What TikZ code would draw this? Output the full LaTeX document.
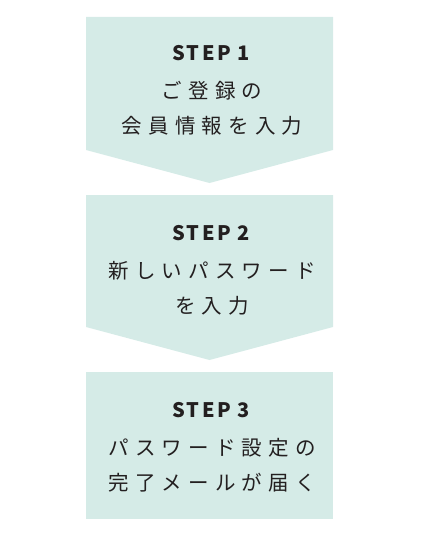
\documentclass[tikz,border=0pt]{standalone}
\usepackage{fontspec}
\newfontfamily\jpfont[LetterSpace=30]{Noto Sans CJK JP}
\newfontfamily\steplabelfont[LetterSpace=12]{Noto Sans CJK JP}
\definecolor{stepfill}{HTML}{D5EBE7}
\definecolor{steptext}{HTML}{231F20}

\begin{document}
\begin{tikzpicture}[
    x=1pt, y=-1pt,
    stepbg/.style={fill=stepfill, draw=none},
    steptitle/.style={font=\steplabelfont\bfseries\fontsize{20}{22}\selectfont,
                      text=steptext, inner sep=0pt},
    stepdesc/.style={font=\jpfont\fontsize{20.5}{35}\selectfont,
                     text=steptext, align=center, inner sep=0pt}
]
  \useasboundingbox (0,0) rectangle (420,535);

  % backgrounds
  \fill[stepbg] (86,17) -- (333,17) -- (333,150) -- (209.5,183) -- (86,150) -- cycle;
  \fill[stepbg] (86,195) -- (333,195) -- (333,327) -- (209.5,360) -- (86,327) -- cycle;
  \fill[stepbg] (86,372) rectangle (333,519);

  % texts
  \node[steptitle] (title1) at (211,53) {STEP 1};
  \node[stepdesc]  (desc1)  at (212,108.5) {ご登録の\\会員情報を入力};

  \node[steptitle] (title2) at (211,233) {STEP 2};
  \node[stepdesc]  (desc2)  at (212,288.5) {新しいパスワード\\を入力};

  \node[steptitle] (title3) at (211,410) {STEP 3};
  \node[stepdesc]  (desc3)  at (212,465.5) {パスワード設定の\\完了メールが届く};
\end{tikzpicture}
\end{document}
